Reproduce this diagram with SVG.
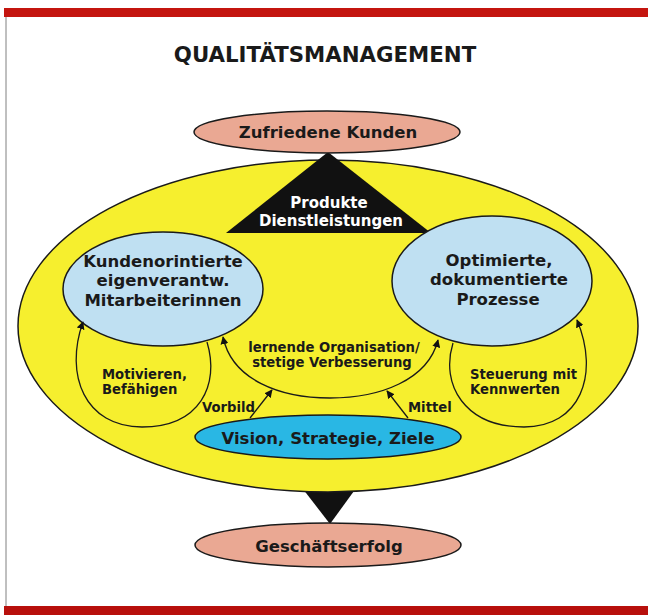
<svg xmlns="http://www.w3.org/2000/svg" width="648" height="615" viewBox="0 0 648 615">
  <defs>
    <marker id="arrow" viewBox="0 0 10 10" refX="9" refY="5" markerWidth="8" markerHeight="8" markerUnits="userSpaceOnUse" orient="auto">
      <path d="M0,0 L10,5 L0,10 Z" fill="#111"/>
    </marker>
    <style>
      .t { font-family: "DejaVu Sans", "Liberation Sans", sans-serif; font-weight: bold; fill: #1a1a1a; text-anchor: middle; }
      .s { text-anchor: start; }
      .lbl { font-size: 13.2px; }
      .node { font-size: 16.5px; }
      .inv { font-size: 15px; fill: #ffffff; }
      .edge { fill: none; stroke: #1a1a1a; stroke-width: 1.3; }
      .outline { stroke: #1a1a1a; stroke-width: 1.5; }
    </style>
  </defs>

  <rect width="648" height="615" fill="#ffffff"/>
  <!-- frame -->
  <rect x="4" y="8" width="644" height="9" fill="#c4150f"/>
  <rect x="4" y="606" width="644" height="9" fill="#b8100c"/>
  <line x1="6" y1="17" x2="6" y2="606" stroke="#808080" stroke-width="1"/>

  <text class="t" x="325" y="62" font-size="21.3">QUALITÄTSMANAGEMENT</text>

  <!-- lower black triangle sits behind the big ellipse -->
  <g id="triangle-bottom">
    <polygon points="296,480 362,480 330,524" fill="#111"/>
  </g>

  <g id="organisation">
    <ellipse cx="328" cy="326" rx="310" ry="166" fill="#f6ef2e" class="outline"/>
  </g>

  <g id="produkte">
    <polygon points="328,152 226,233 431,233" fill="#111"/>
    <text class="t inv" x="329" y="208">Produkte</text>
    <text class="t inv" x="331" y="225.5">Dienstleistungen</text>
  </g>

  <g id="kunden">
    <ellipse cx="327" cy="132" rx="133" ry="21" fill="#eaa893" class="outline"/>
    <text class="t node" x="328" y="137.5">Zufriedene Kunden</text>
  </g>

  <g id="mitarbeiter">
    <ellipse cx="163" cy="289" rx="100" ry="57" fill="#bfe0f2" class="outline"/>
    <text class="t node" x="163" y="267">Kundenorintierte</text>
    <text class="t node" x="163" y="286.3">eigenverantw.</text>
    <text class="t node" x="163" y="305.6">Mitarbeiterinnen</text>
  </g>

  <g id="prozesse">
    <ellipse cx="492" cy="281" rx="100" ry="65" fill="#bfe0f2" class="outline"/>
    <text class="t node" x="499" y="266">Optimierte,</text>
    <text class="t node" x="499" y="285.3">dokumentierte</text>
    <text class="t node" x="498" y="304.6">Prozesse</text>
  </g>

  <g id="vision">
    <ellipse cx="328" cy="437" rx="133" ry="22" fill="#29b7e4" class="outline"/>
    <text class="t node" x="328" y="444" font-size="17">Vision, Strategie, Ziele</text>
  </g>

  <g id="erfolg">
    <ellipse cx="328" cy="545" rx="133" ry="22" fill="#eaa893" class="outline"/>
    <text class="t node" x="329" y="552">Geschäftserfolg</text>
  </g>

  <!-- connectors -->
  <g id="connectors">
    <path class="edge" d="M207,342 C220,385 200,427 142,427 C85,427 64,375 83,322" marker-end="url(#arrow)"/>
    <path class="edge" d="M453,343 C440,385 465,427 524,427 C580,427 600,375 577,320" marker-end="url(#arrow)"/>
    <path class="edge" d="M330,398 C280,398 232,380 223,337" marker-end="url(#arrow)"/>
    <path class="edge" d="M330,398 C380,398 428,380 438,340" marker-end="url(#arrow)"/>
    <path class="edge" d="M250,418 L272,390" marker-end="url(#arrow)"/>
    <path class="edge" d="M408,418 L387,391" marker-end="url(#arrow)"/>
  </g>

  <g id="labels">
    <text class="t lbl s" x="102" y="378.5">Motivieren,</text>
    <text class="t lbl s" x="102" y="394">Befähigen</text>
    <text class="t lbl" x="334" y="351.5">lernende Organisation/</text>
    <text class="t lbl" x="332" y="367">stetige Verbesserung</text>
    <text class="t lbl s" x="202" y="412">Vorbild</text>
    <text class="t lbl s" x="408" y="412">Mittel</text>
    <text class="t lbl s" x="470" y="378.5">Steuerung mit</text>
    <text class="t lbl s" x="470" y="394">Kennwerten</text>
  </g>
</svg>
